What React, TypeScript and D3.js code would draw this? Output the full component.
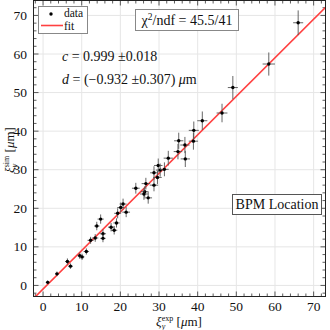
import React from "react";
import * as d3 from "d3";

const xExp = [1.2, 3.6, 6.3, 7.1, 9.5, 10.1, 11.2, 12.3, 13.5, 13.9, 14.9, 15.5, 15.5, 17.6, 18.4, 19.0, 19.3, 20.1, 20.7, 21.5, 24.0, 26.3, 26.6, 26.1, 27.2, 28.7, 28.7, 29.6, 29.8, 30.3, 31.4, 32.4, 34.9, 35.1, 36.8, 36.7, 38.9, 39.0, 41.2, 46.3, 49.1, 58.4, 66.0];
const ySim = [0.8, 3.0, 6.2, 5.0, 7.7, 7.4, 8.8, 11.7, 12.3, 15.4, 17.2, 13.4, 12.2, 15.1, 14.3, 16.2, 18.7, 20.2, 21.1, 19.0, 25.2, 24.3, 26.4, 23.7, 22.7, 26.0, 29.2, 28.0, 31.1, 29.9, 30.1, 33.0, 34.7, 37.5, 32.8, 36.4, 37.4, 40.2, 42.7, 44.7, 51.3, 57.4, 68.1];
const xErr = [0.4, 0.5, 0.6, 0.6, 0.6, 0.6, 0.7, 0.8, 0.8, 0.7, 0.8, 0.8, 0.7, 0.8, 0.8, 0.8, 0.9, 0.9, 0.9, 1.0, 1.0, 1.0, 1.1, 1.0, 1.0, 1.1, 1.0, 1.1, 1.1, 1.1, 1.1, 1.2, 1.1, 1.2, 1.2, 1.2, 1.2, 1.3, 1.3, 1.4, 1.3, 1.6, 1.3];
const yErr = [0.5, 0.6, 0.8, 0.7, 0.8, 0.8, 0.8, 0.9, 1.0, 1.1, 1.2, 1.1, 1.0, 1.1, 1.1, 1.2, 1.3, 1.3, 1.4, 1.3, 1.4, 1.4, 1.5, 1.5, 1.5, 1.6, 1.7, 1.7, 1.8, 1.7, 1.8, 1.9, 2.0, 2.1, 2.1, 2.1, 2.2, 2.3, 2.4, 2.4, 3.0, 3.0, 3.2];

const fitC = 0.999;
const fitD = -0.932;

const majorTicks = [0, 10, 20, 30, 40, 50, 60, 70];
const minorTicks = d3.range(-2, 74, 2);

const serif = "'Liberation Serif', 'DejaVu Serif', serif";

const App = () => {
    const layout = { width: 330, height: 330, left: 33, right: 326, top: 0, bottom: 297 };

    const xScale = d3.scaleLinear().domain([-2.6, 73.2]).range([layout.left, layout.right]);
    const yScale = d3.scaleLinear().domain([-3, 74]).range([layout.bottom, layout.top]);

    const points = xExp.map((x, i) => ({ x, y: ySim[i], ex: xErr[i], ey: yErr[i] }));

    const fitX = [-3, 74];
    const fitLine = d3.line<number>()
        .x(d => xScale(d))
        .y(d => yScale(fitC * d + fitD))(fitX);

    const L = layout.left + 0.5;
    const R = layout.right - 0.5;
    const T = layout.top + 0.5;
    const B = layout.bottom - 0.5;

    return (
        <svg
            width={layout.width}
            height={layout.height}
            style={{ position: "absolute", left: 0, top: 0, background: "#fff" }}
            fontFamily={serif}
        >
            <defs>
                <clipPath id="plotClip">
                    <rect x={L} y={T} width={R - L} height={B - T} />
                </clipPath>
            </defs>
            <rect x={0} y={0} width={layout.width} height={layout.height} fill="#fff" />

            {/* grid */}
            {majorTicks.map(t => (
                <line key={"gx" + t} x1={xScale(t)} x2={xScale(t)} y1={T} y2={B} stroke="#e6e6e6" strokeWidth={1} />
            ))}
            {majorTicks.map(t => (
                <line key={"gy" + t} x1={L} x2={R} y1={yScale(t)} y2={yScale(t)} stroke="#e6e6e6" strokeWidth={1} />
            ))}

            {/* minor ticks, mirrored */}
            {minorTicks.filter(t => t % 10 !== 0).map(t => (
                <g key={"m" + t} stroke="#333" strokeWidth={0.8}>
                    <line x1={xScale(t)} x2={xScale(t)} y1={B} y2={B - 3} />
                    <line x1={xScale(t)} x2={xScale(t)} y1={T} y2={T + 3} />
                    <line x1={L} x2={L + 3} y1={yScale(t)} y2={yScale(t)} />
                    <line x1={R} x2={R - 3} y1={yScale(t)} y2={yScale(t)} />
                </g>
            ))}
            {majorTicks.map(t => (
                <g key={"M" + t} stroke="#333" strokeWidth={0.8}>
                    <line x1={xScale(t)} x2={xScale(t)} y1={B} y2={B - 5} />
                    <line x1={xScale(t)} x2={xScale(t)} y1={T} y2={T + 5} />
                    <line x1={L} x2={L + 5} y1={yScale(t)} y2={yScale(t)} />
                    <line x1={R} x2={R - 5} y1={yScale(t)} y2={yScale(t)} />
                </g>
            ))}

            {/* fit line */}
            <path d={fitLine ?? ""} fill="none" stroke="#ff4040" strokeWidth={1.6} clipPath="url(#plotClip)" />

            {/* data with error bars */}
            <g clipPath="url(#plotClip)">
                {points.map((p, i) => (
                    <g key={i}>
                        <line x1={xScale(p.x - p.ex)} x2={xScale(p.x + p.ex)} y1={yScale(p.y)} y2={yScale(p.y)} stroke="#555" strokeWidth={0.9} />
                        <line x1={xScale(p.x)} x2={xScale(p.x)} y1={yScale(p.y - p.ey)} y2={yScale(p.y + p.ey)} stroke="#555" strokeWidth={0.9} />
                        <circle cx={xScale(p.x)} cy={yScale(p.y)} r={1.7} fill="#000" />
                    </g>
                ))}
            </g>

            {/* frame */}
            <rect x={L} y={T} width={R - L} height={B - T} fill="none" stroke="#222" strokeWidth={1} />

            {/* tick labels */}
            {majorTicks.map(t => (
                <text key={"xl" + t} x={xScale(t)} y={310.5} textAnchor="middle" fontSize={13.5} fill="#111">{t}</text>
            ))}
            {majorTicks.map(t => (
                <text key={"yl" + t} x={27} y={yScale(t) + 4.5} textAnchor="end" fontSize={13.5} fill="#111">{t}</text>
            ))}

            {/* axis titles */}
            <text x={179} y={326} textAnchor="middle" fontSize={13} fill="#111">
                <tspan fontStyle="italic">ξ</tspan>
                <tspan fontSize={8} fontStyle="italic" dy={2.5}>y</tspan>
                <tspan fontSize={8} dx={-3.5} dy={-8}>exp</tspan>
                <tspan dy={5.5}> [</tspan>
                <tspan fontStyle="italic">μ</tspan>
                <tspan>m]</tspan>
            </text>
            <text transform="translate(14,150) rotate(-90)" textAnchor="middle" fontSize={13} fill="#111">
                <tspan fontStyle="italic">ξ</tspan>
                <tspan fontSize={8} fontStyle="italic" dy={2.5}>y</tspan>
                <tspan fontSize={8} dx={-3.5} dy={-8}>sim</tspan>
                <tspan dy={5.5}> [</tspan>
                <tspan fontStyle="italic">μ</tspan>
                <tspan>m]</tspan>
            </text>

            {/* legend */}
            <rect x={38.5} y={6.5} width={49} height={27} fill="#fff" stroke="#888" strokeWidth={1} />
            <circle cx={51} cy={14} r={1.7} fill="#000" />
            <text x={64} y={17} fontSize={11.5} fill="#111">data</text>
            <line x1={41} x2={63} y1={25.5} y2={25.5} stroke="#ff4040" strokeWidth={1.6} />
            <text x={64} y={30} fontSize={11.5} fill="#111">fit</text>

            {/* chi2 box */}
            <rect x={135.5} y={9.5} width={103} height={21} fill="#fff" stroke="#888" strokeWidth={1} />
            <text x={187} y={24.5} textAnchor="middle" fontSize={14} fill="#111">
                <tspan>χ</tspan>
                <tspan fontSize={9.5} dy={-5}>2</tspan>
                <tspan dy={5}>/ndf = 45.5/41</tspan>
            </text>

            {/* fit parameters */}
            <text x={62} y={61} fontSize={14} fill="#111">
                <tspan fontStyle="italic">c</tspan>
                <tspan> = 0.999 ±0.018</tspan>
            </text>
            <text x={62} y={84} fontSize={14} fill="#111">
                <tspan fontStyle="italic">d</tspan>
                <tspan> = (−0.932 ±0.307) </tspan>
                <tspan fontStyle="italic">μ</tspan>
                <tspan>m</tspan>
            </text>

            {/* location box */}
            <rect x={232.5} y={194.5} width={89} height={20} fill="#fff" stroke="#555" strokeWidth={1} />
            <text x={277} y={209} textAnchor="middle" fontSize={14} fill="#111">BPM Location</text>
        </svg>
    );
};

export default App;
